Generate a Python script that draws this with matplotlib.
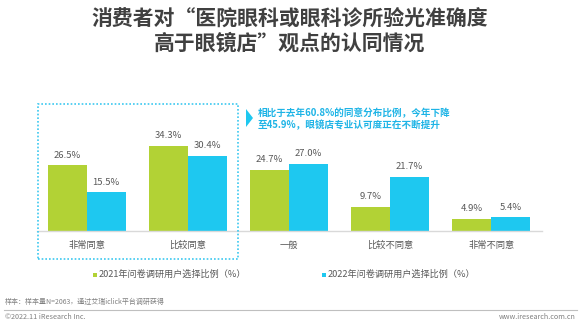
import matplotlib
matplotlib.use("Agg")
import matplotlib.pyplot as plt
from matplotlib.patches import Rectangle, Polygon
import numpy as np

plt.rcParams['font.family'] = ['Noto Sans CJK SC', 'DejaVu Sans']

categories = ["非常同意", "比较同意", "一般", "比较不同意", "非常不同意"]
series_2021 = [26.5, 34.3, 24.7, 9.7, 4.9]
series_2022 = [15.5, 30.4, 27.0, 21.7, 5.4]
series_names = ["2021年问卷调研用户选择比例（%）", "2022年问卷调研用户选择比例（%）"]
title = "消费者对“医院眼科或眼科诊所验光准确度\n高于眼镜店”观点的认同情况"
note = "相比于去年60.8%的同意分布比例，今年下降\n至45.9%，眼镜店专业认可度正在不断提升"
source = "样本：样本量N=2063，通过艾瑞iclick平台调研获得"
copyright_txt = "©2022.11 iResearch Inc."
site = "www.iresearch.com.cn"

GREEN = "#B2D235"
BLUE = "#1EC8F0"
TEXT = "#595959"

W, H = 580, 328
fig = plt.figure(figsize=(W / 100, H / 100), dpi=100)

def fx(px):
    return px / W

def fy(py):
    return 1 - py / H

ax = fig.add_axes([fx(37), fy(230.7), fx(505), 98.8 / H])
x = np.arange(len(categories))
bw = 0.385
b1 = ax.bar(x - bw / 2, series_2021, bw, color=GREEN, zorder=2)
b2 = ax.bar(x + bw / 2, series_2022, bw, color=BLUE, zorder=2)
for bars, vals in ((b1, series_2021), (b2, series_2022)):
    for rect, v in zip(bars, vals):
        ax.annotate(f"{v:.1f}%", (rect.get_x() + rect.get_width() / 2, v),
                    xytext=(0, 7.3), textcoords="offset points",
                    ha="center", va="center", fontsize=6.8, color=TEXT)
ax.set_xlim(-0.49, 4.5)
ax.set_ylim(0, 40)
ax.set_yticks([])
ax.set_xticks(x)
ax.set_xticklabels(categories, fontsize=6.7, color=TEXT)
ax.tick_params(axis="x", length=0, pad=7.5)
for s in ("top", "left", "right"):
    ax.spines[s].set_visible(False)
ax.spines["bottom"].set_color("#D9D9D9")
ax.spines["bottom"].set_linewidth(1.0)
ax.set_facecolor("none")

# title
fig.text(fx(290), fy(31), title, ha="center", va="center", fontsize=15,
         fontweight="bold", color="#404040", linespacing=1.25)

# dotted highlight box
fig.patches.append(Rectangle((fx(38), fy(259)), fx(200), (259 - 104) / H,
                             transform=fig.transFigure, fill=False,
                             edgecolor="#3CC8F0", linestyle=(0, (1, 1.2)),
                             linewidth=1.2))

# annotation marker and text
fig.patches.append(Polygon([[fx(246), fy(109)], [fx(253), fy(118)], [fx(246), fy(127)]],
                           closed=True, transform=fig.transFigure,
                           facecolor="#1EC8F0", edgecolor="none"))
fig.text(fx(258), fy(119), note, ha="left", va="center", fontsize=6.9,
         fontweight="bold", color="#1EB4E6", linespacing=1.1)

# legend
for sx, col, name in ((95, GREEN, series_names[0]), (324, BLUE, series_names[1])):
    fig.patches.append(Rectangle((fx(sx - 2), fy(276.7)), fx(4), 4 / H,
                                 transform=fig.transFigure, facecolor=col,
                                 edgecolor="none"))
    fig.text(fx(sx + 4), fy(274.7), name, ha="left", va="center",
             fontsize=6.6, color=TEXT)

# footer
fig.text(fx(5), fy(302), source, ha="left", va="center", fontsize=5, color="#808080")
fig.add_artist(plt.Line2D([fx(4), fx(577)], [fy(309.7), fy(309.7)],
                          transform=fig.transFigure, color="#BFBFBF", linewidth=0.8))
fig.text(fx(5), fy(317), copyright_txt, ha="left", va="center", fontsize=5.2, color="#808080")
fig.text(fx(576), fy(317), site, ha="right", va="center", fontsize=5.2, color="#808080")

fig.savefig("out.png", dpi=100)
